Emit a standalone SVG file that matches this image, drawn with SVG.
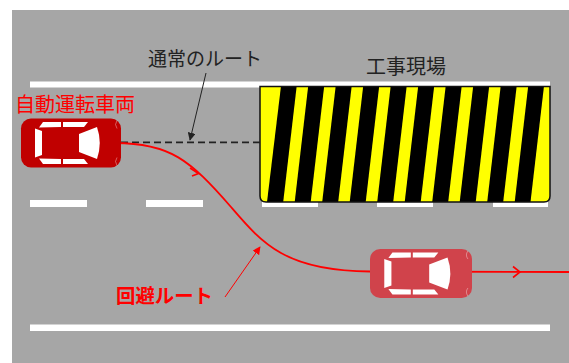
<svg xmlns="http://www.w3.org/2000/svg" width="569" height="363" viewBox="0 0 569 363">
  <style>
    .road { fill: #FFFFFF; }
    .label { font-family: "Noto Sans CJK JP", "Noto Sans", sans-serif; }
    .dark { fill: #222222; }
    .red { fill: #FF0000; }
    .win { fill: #FFFFFF; }
    .route { fill: none; stroke: #FF0000; stroke-width: 1.8; }
    .chev { fill: none; stroke: #FF0000; stroke-width: 1.6; stroke-linejoin: miter; }
  </style>
  <defs>
    <marker id="tipDark" viewBox="0 0 10 10" refX="9" refY="5" markerWidth="8" markerHeight="8" markerUnits="userSpaceOnUse" orient="auto">
      <path d="M0,0 L10,5 L0,10 Z" fill="#222222"/>
    </marker>
    <marker id="tipRed" viewBox="0 0 10 10" refX="9" refY="5" markerWidth="8" markerHeight="8" markerUnits="userSpaceOnUse" orient="auto">
      <path d="M0,0 L10,5 L0,10 Z" fill="#FF0000"/>
    </marker>
    <!-- top view of a car facing right; body colour comes from the <use> -->
    <g id="car">
      <rect width="100" height="49" rx="10"/>
      <polygon class="win" points="14,10 21,12.5 21,36.5 14,39"/>
      <polygon class="win" points="22,3.5 40,3.5 40,8.5 18,9"/>
      <polygon class="win" points="42,3.5 67,3.5 63,8.5 42,8.5"/>
      <polygon class="win" points="18,40 40,40.5 40,45.5 22,45.5"/>
      <polygon class="win" points="42,40.5 63,40.5 67,45.5 42,45.5"/>
      <path class="win" d="M58,15.5 L76,8.5 Q81.5,24.5 76,40.5 L58,33.5 Z"/>
      <path d="M96,2 q-3,4 0,8 M96,39 q-3,4 0,8" fill="none" stroke="#FFFFFF" stroke-opacity="0.45" stroke-width="0.8"/>
    </g>
    <clipPath id="siteClip">
      <path d="M260,86.5 H550 V196 Q550,202 544,202 H266 Q260,202 260,196 Z"/>
    </clipPath>
  </defs>

  <!-- road surface -->
  <rect x="12" y="10" width="557" height="353" fill="#A6A6A6"/>
  <rect class="road" x="30" y="81.5" width="520" height="6"/>
  <rect class="road" x="30" y="324.5" width="520" height="6.5"/>
  <g id="lane-dashes">
    <rect class="road" x="30" y="200" width="57" height="7"/>
    <rect class="road" x="146" y="200" width="57" height="7"/>
    <rect class="road" x="262" y="200" width="56" height="7"/>
    <rect class="road" x="377" y="200" width="56" height="7"/>
    <rect class="road" x="493" y="200" width="55" height="7"/>
  </g>

  <!-- construction zone -->
  <g id="worksite">
    <path d="M260,86.5 H550 V196 Q550,202 544,202 H266 Q260,202 260,196 Z" fill="#000000"/>
    <g clip-path="url(#siteClip)" fill="#FFFF00">
      <polygon points="258,86 281,86 267,202 258,202"/>
      <polygon points="296.7,86 308.2,86 294.7,202 283.2,202"/>
      <polygon points="324.2,86 335.7,86 322.2,202 310.7,202"/>
      <polygon points="351.7,86 363.2,86 349.7,202 338.2,202"/>
      <polygon points="379.2,86 390.7,86 377.2,202 365.7,202"/>
      <polygon points="406.7,86 418.2,86 404.7,202 393.2,202"/>
      <polygon points="434.2,86 445.7,86 432.2,202 420.7,202"/>
      <polygon points="461.7,86 473.2,86 459.7,202 448.2,202"/>
      <polygon points="489.2,86 500.7,86 487.2,202 475.7,202"/>
      <polygon points="516.7,86 528.2,86 514.7,202 503.2,202"/>
      <polygon points="544,86 552,86 552,202 530.5,202"/>
    </g>
    <path d="M260,86.5 H550 V196 Q550,202 544,202 H266 Q260,202 260,196 Z" fill="none" stroke="#111111" stroke-width="1.5"/>
    <text class="label dark" x="366" y="74" font-size="20">工事現場</text>
  </g>

  <!-- routes and pointers -->
  <g id="connectors">
    <line x1="121" y1="142.3" x2="260" y2="142.3" stroke="#222222" stroke-width="1.8" stroke-dasharray="7 4"/>
    <line x1="206" y1="73" x2="190" y2="140" stroke="#222222" stroke-width="1" marker-end="url(#tipDark)"/>
    <path class="route" d="M115,143 C170,143 190,160 231,207 C262,243 285,271 370,271.5 L569,272"/>
    <polyline class="chev" points="190,168 198.5,173.5 192,176"/>
    <polyline class="chev" points="513,266.5 520,272 513,277.5"/>
    <line x1="225" y1="297" x2="260" y2="247" stroke="#FF0000" stroke-width="1" marker-end="url(#tipRed)"/>
  </g>

  <g id="normal-route-label">
    <text class="label dark" x="148" y="65.5" font-size="19">通常のルート</text>
  </g>

  <g id="ego-car">
    <use href="#car" x="21" y="118.5" fill="#C00000"/>
    <text class="label red" x="15" y="111.5" font-size="20">自動運転車両</text>
  </g>

  <g id="moved-car">
    <use href="#car" transform="translate(370,249) scale(1.02,1)" fill="#D0434B"/>
  </g>

  <g id="avoid-route-label">
    <text class="label red" x="116" y="302.5" font-size="19.4" font-weight="bold">回避ルート</text>
  </g>
</svg>
